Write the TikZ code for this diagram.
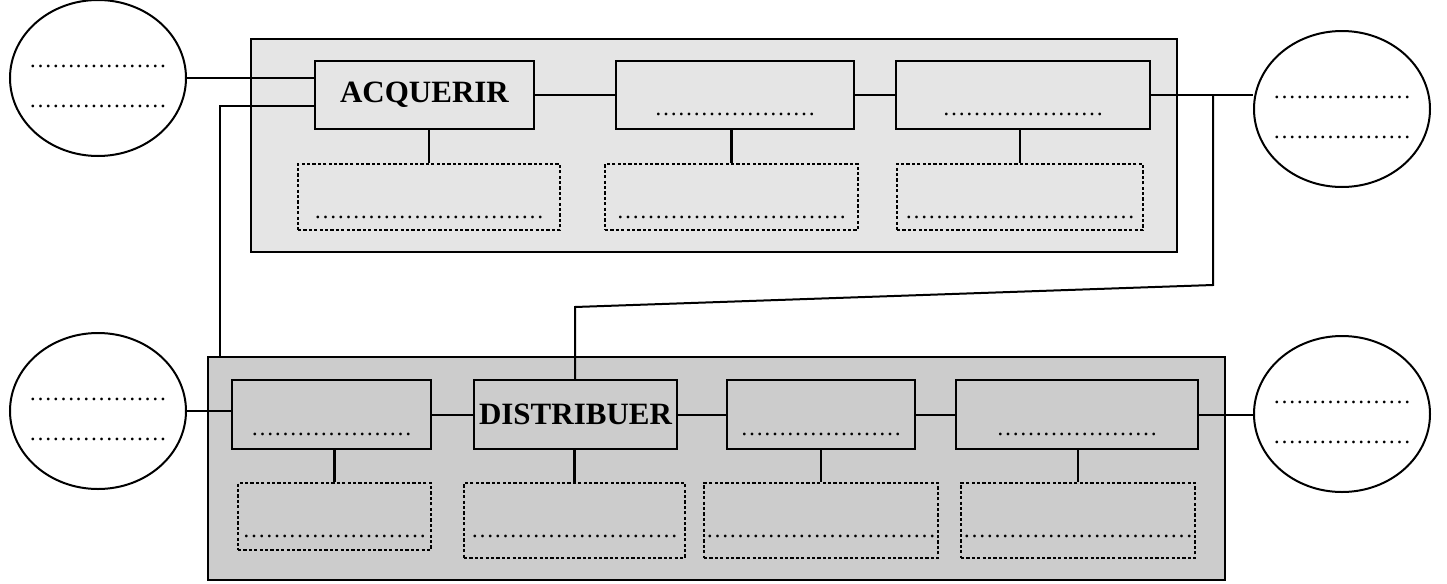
\documentclass[tikz,border=0pt]{standalone}
\usepackage{fontspec}
\setmainfont{Liberation Serif}
\usetikzlibrary{shapes.geometric}

\newcommand{\blank}[1]{\foreach \k in {1,...,#1}{…}}

\begin{document}
\begin{tikzpicture}[x=0.5pt, y=-0.5pt, line width=1pt,
  grp/.style={draw, line width=1.1pt, inner sep=0pt, anchor=north west},
  fct/.style={draw, inner sep=0pt, anchor=north west, font=\fontsize{11.5}{14}\selectfont},
  fctname/.style={fct, font=\fontsize{15.5}{18}\selectfont\bfseries},
  hint/.style={draw, dash pattern=on 1.6pt off 1.1pt, inner sep=0pt, anchor=north west, font=\fontsize{11.5}{14}\selectfont, text height=27pt},
  oval/.style={ellipse, draw, inner xsep=-6pt, inner ysep=0pt, minimum width=88pt, minimum height=78pt, align=center, font=\fontsize{11.5}{20}\selectfont},
  link/.style={line width=1.3pt}]
\useasboundingbox (0,0) rectangle (1447,584);

% the two groups
\node[grp, fill=black!10, minimum width=463pt, minimum height=106.5pt] (grpA) at (250,38) {};
\node[grp, fill=black!20, minimum width=508.5pt, minimum height=111.5pt] (grpB) at (207,356) {};

% top row
\node[fctname, minimum width=109.5pt, minimum height=34pt] (a1) at (314,60) {ACQUERIR};
\node[fct, minimum width=119pt, text height=27pt, text depth=7pt] (a2) at (615,60) {\blank{7}};
\node[fct, minimum width=127pt, text height=27pt, text depth=7pt] (a3) at (895,60) {\blank{7}};
\node[hint, minimum width=131pt, text depth=6pt] (d1) at (297,163) {\blank{10}};
\node[hint, minimum width=126.5pt, text depth=6pt] (d2) at (604,163) {\blank{10}};
\node[hint, minimum width=123pt, text depth=6pt] (d3) at (896,163) {\blank{10}};

% bottom row
\node[fct, minimum width=99.5pt, text height=27.5pt, text depth=7pt] (b1) at (231,379) {\blank{7}};
\node[fctname, minimum width=101.5pt, minimum height=34.5pt] (b2) at (473,379) {DISTRIBUER};
\node[fct, minimum width=94pt, text height=27.5pt, text depth=7pt] (b3) at (726,379) {\blank{7}};
\node[fct, minimum width=121pt, text height=27.5pt, text depth=7pt] (b4) at (955,379) {\blank{7}};
\node[hint, minimum width=96.5pt, text depth=6.5pt] (e1) at (237,482) {\blank{8}};
\node[hint, minimum width=110.5pt, text depth=10.5pt] (e2) at (463,482) {\blank{9}};
\node[hint, minimum width=117pt, text depth=10.5pt] (e3) at (703,482) {\blank{10}};
\node[hint, minimum width=117pt, text depth=10.5pt] (e4) at (960,482) {\blank{10}};

% outside
\node[oval] (c1) at (98,78) {\rule{0pt}{9.5pt}\blank{6}\\\blank{6}};
\node[oval] (c2) at (1342,109) {\rule{0pt}{9.5pt}\blank{6}\\\blank{6}};
\node[oval] (c3) at (98,411) {\rule{0pt}{9.5pt}\blank{6}\\\blank{6}};
\node[oval] (c4) at (1342,414) {\rule{0pt}{9.5pt}\blank{6}\\\blank{6}};

\coordinate (j1) at (220,106);
\coordinate (j3) at (1213,285);
\coordinate (j4) at (575,307);

\draw (c1.east) -- (c1.east -| a1.west);
\draw (j1 -| a1.west) -- (j1) -- (j1 |- grpB.north);
\draw (a1) -- (a2);
\draw (a2) -- (a3);
\draw (a3.east) -- (a3.east -| c2.west);
\draw (a3.east -| j3) -- (j3) -- (j4) -- (j4 |- b2.north);
\draw (c3.east) -- (c3.east -| b1.west);
\draw (b1) -- (b2);
\draw (b2) -- (b3);
\draw (b3) -- (b4);
\draw (b4.east) -- (b4.east -| c4.west);

\foreach \f/\h in {a1/d1, a2/d2, a3/d3, b1/e1, b2/e2, b3/e3, b4/e4}
  \draw[link] (\h.north |- \f.south) -- (\h.north);
\end{tikzpicture}
\end{document}
